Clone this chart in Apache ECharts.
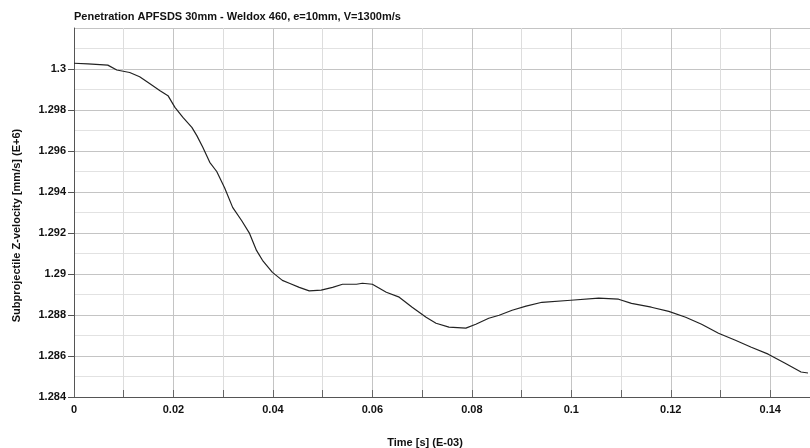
<!DOCTYPE html>
<html>
<head>
<meta charset="utf-8">
<script src="https://cdn.jsdelivr.net/npm/echarts@6/dist/echarts.min.js"></script>
<style>
  html, body { margin: 0; padding: 0; background: #fff; }
  #show { width: 810px; height: 448px; }
</style>
</head>
<body>
<div id="show"></div>
<script>
// time [s] (E-03)
var times = [0, 0.0028, 0.0068, 0.0086, 0.0112, 0.0132, 0.0152, 0.0173, 0.0189, 0.0203,
  0.0219, 0.0237, 0.0247, 0.0259, 0.0273, 0.0287, 0.0303, 0.0319, 0.0337, 0.0353,
  0.0367, 0.0379, 0.0399, 0.0419, 0.0433, 0.0453, 0.0473, 0.0497, 0.0520, 0.0540,
  0.0568, 0.0580, 0.0600, 0.0628, 0.0654, 0.0680, 0.0708, 0.0728, 0.0754, 0.0788,
  0.0808, 0.0834, 0.0855, 0.0881, 0.0909, 0.0941, 0.0999, 0.1055, 0.1095, 0.1121,
  0.1161, 0.1196, 0.1230, 0.1262, 0.1296, 0.1330, 0.1362, 0.1396, 0.1430, 0.1462, 0.1476];
// subprojectile Z-velocity [mm/s] (E+6)
var velocity = [1.30028, 1.30025, 1.30019, 1.29995, 1.29983, 1.29962, 1.29929, 1.29894, 1.29870, 1.29813,
  1.29764, 1.29715, 1.29675, 1.29618, 1.29545, 1.29500, 1.29420, 1.29325, 1.29261, 1.29198,
  1.29115, 1.29067, 1.29008, 1.28969, 1.28955, 1.28935, 1.28918, 1.28921, 1.28935, 1.28950,
  1.28950, 1.28955, 1.28950, 1.28911, 1.28887, 1.28838, 1.28789, 1.28760, 1.28741, 1.28736,
  1.28755, 1.28784, 1.28799, 1.28823, 1.28843, 1.28862, 1.28872, 1.28882, 1.28877, 1.28857,
  1.28838, 1.28818, 1.28789, 1.28755, 1.28711, 1.28677, 1.28643, 1.28609, 1.28565, 1.28522, 1.28517];

var titleText = 'Penetration APFSDS 30mm - Weldox 460, e=10mm, V=1300m/s';
var xName = 'Time [s] (E-03)';
var yName = 'Subprojectile Z-velocity [mm/s] (E+6)';

var points = [];
for (var i = 0; i < times.length; i++) {
    points.push([times[i], velocity[i]]);
}

var myChart = echarts.init(document.getElementById('show'));
var fnt = 'Liberation Sans, Arial, sans-serif';
var option = {
    animation: false,
    title: {
        text: titleText,
        left: 69,
        top: 6,
        textStyle: { fontFamily: fnt, fontSize: 11, fontWeight: 'bold', color: '#111' }
    },
    grid: { left: 74, right: 0, top: 28, bottom: 51, outerBoundsMode: 'none', containLabel: false },
    xAxis: {
        type: 'value',
        min: 0,
        max: 0.148,
        interval: 0.02,
        name: xName,
        nameLocation: 'middle',
        nameGap: 40,
        nameTextStyle: { fontFamily: fnt, fontSize: 11, fontWeight: 'bold', color: '#111', padding: [0, 34, 0, 0] },
        axisLine: { show: true, lineStyle: { color: '#555', width: 1 } },
        axisTick: { show: true, inside: true, length: 7, lineStyle: { color: '#666' } },
        minorTick: { show: true, splitNumber: 2, length: 7, lineStyle: { color: '#666' } },
        splitLine: { show: true, lineStyle: { color: '#c4c4c4', width: 1 } },
        minorSplitLine: { show: true, lineStyle: { color: '#dddddd', width: 1 } },
        axisLabel: {
            showMaxLabel: false,
            margin: 7,
            fontFamily: fnt, fontSize: 11, fontWeight: 'bold', color: '#111',
            formatter: function (v) { return String(parseFloat(v.toFixed(3))); }
        }
    },
    yAxis: {
        type: 'value',
        min: 1.284,
        max: 1.302,
        interval: 0.002,
        name: yName,
        nameLocation: 'middle',
        nameGap: 52,
        nameTextStyle: { fontFamily: fnt, fontSize: 11, fontWeight: 'bold', color: '#111', padding: [0, 26, 0, 0] },
        axisLine: { show: true, lineStyle: { color: '#555', width: 1 } },
        axisTick: { show: true, length: 6, lineStyle: { color: '#555' } },
        minorTick: { show: false, splitNumber: 2 },
        splitLine: { show: true, lineStyle: { color: '#c4c4c4', width: 1 } },
        minorSplitLine: { show: true, lineStyle: { color: '#e2e2e2', width: 1 } },
        axisLabel: {
            showMaxLabel: false,
            margin: 8,
            fontFamily: fnt, fontSize: 11, fontWeight: 'bold', color: '#111',
            formatter: function (v) { return String(parseFloat(v.toFixed(3))); }
        }
    },
    series: [{
        type: 'line',
        data: points,
        showSymbol: false,
        symbol: 'none',
        lineStyle: { color: '#222', width: 1.2 }
    }]
};
myChart.setOption(option);
</script>
</body>
</html>
